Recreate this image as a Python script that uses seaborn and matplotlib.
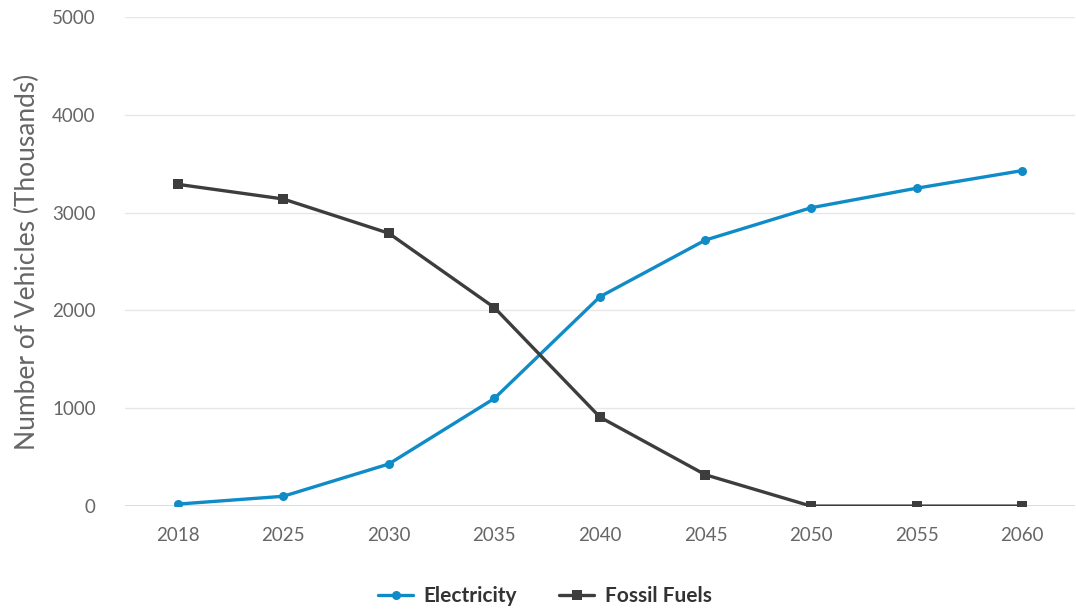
import matplotlib
matplotlib.use("Agg")
import matplotlib.pyplot as plt
import seaborn as sns
import pandas as pd

years = ["2018", "2025", "2030", "2035", "2040", "2045", "2050", "2055", "2060"]
electricity = [20, 100, 430, 1100, 2140, 2720, 3050, 3250, 3430]
fossil_fuels = [3290, 3140, 2790, 2030, 910, 320, 0, 0, 0]
series_names = ["Electricity", "Fossil Fuels"]
y_ticks = [0, 1000, 2000, 3000, 4000, 5000]

df = pd.DataFrame({
    "Year": years * 2,
    "Value": electricity + fossil_fuels,
    "Series": [series_names[0]] * len(years) + [series_names[1]] * len(years),
})

sns.set_style("white")
plt.rcParams["font.family"] = ["Lato", "DejaVu Sans"]

fig = plt.figure(figsize=(10.76, 6.09), dpi=100)
ax = fig.add_axes([0.116, 0.169, 0.883, 0.803])

palette = {"Electricity": "#0f8cc7", "Fossil Fuels": "#3d3d3d"}
sns.lineplot(data=df, x="Year", y="Value", hue="Series", style="Series",
             markers={"Electricity": "o", "Fossil Fuels": "s"},
             dashes=False, palette=palette, linewidth=2.4, markersize=6.5,
             markeredgewidth=0, ax=ax, sort=False)

ax.set_xlim(-0.5, len(years) - 0.5)
ax.set_ylim(0, 5000)
ax.set_yticks(y_ticks)
ax.set_yticklabels([str(t) for t in y_ticks])
for t in y_ticks[1:]:
    ax.axhline(t, color="#e6e6e6", linewidth=1, zorder=0)
ax.axhline(0, color="#ccd6eb", linewidth=1.2, zorder=0)
for s in ax.spines.values():
    s.set_visible(False)
ax.tick_params(axis="both", length=0, labelsize=13.5, labelcolor="#666666")
ax.tick_params(axis="x", pad=15)
ax.tick_params(axis="y", pad=21)
ax.set_xlabel("")
ax.set_ylabel("Number of Vehicles (Thousands)", fontsize=19, color="#666666", labelpad=9)

handles, labels = ax.get_legend_handles_labels()
ax.legend(handles, labels, loc="center", bbox_to_anchor=(0.442, -0.184), ncol=2,
          frameon=False, prop={"weight": "bold", "size": 15}, labelcolor="#333333",
          handlelength=1.7, columnspacing=2.0, handletextpad=0.5)

fig.savefig("out.png", dpi=100)
